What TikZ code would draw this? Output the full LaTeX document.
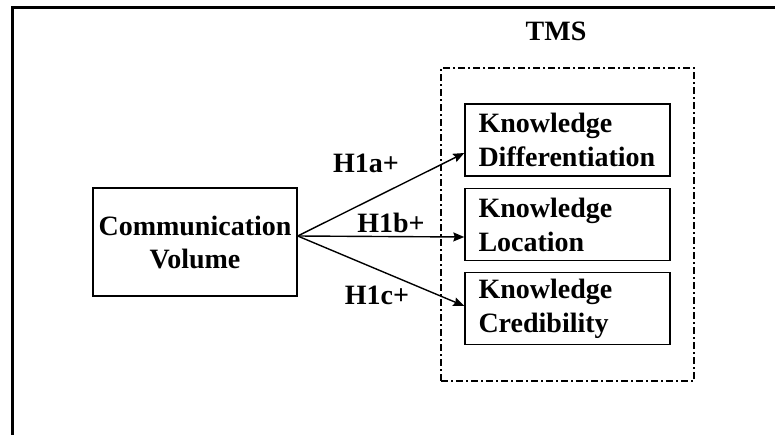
\documentclass[tikz,border=0pt]{standalone}
\usepackage{fontspec}
\setmainfont{Liberation Serif}
\usetikzlibrary{arrows.meta,calc}

\tikzset{
  frameline/.style={line width=2.2pt, line cap=rect},
  varbox/.style={draw, line width=1.4pt, rectangle, inner sep=0pt,
    font=\fontsize{28}{34}\selectfont\bfseries},
  kbox/.style={varbox, minimum width=205pt, minimum height=72pt,
    text width=178pt, align=left},
  groupbox/.style={draw, line width=1.4pt, rectangle,
    dash pattern=on 7pt off 3pt on 2pt off 3pt},
  hlabel/.style={inner sep=0pt, font=\fontsize{28}{34}\selectfont\bfseries},
  arr/.style={line width=1.4pt, -{Stealth[length=11pt,width=9pt,inset=1.5pt]}}
}

\begin{document}
\begin{tikzpicture}[x=1pt, y=-1pt]
  \useasboundingbox (0,0) rectangle (775,434);

  % outer frame (top and left rules)
  \coordinate (fbl) at (12.5,434);
  \coordinate (ftl) at (12.5,7.5);
  \coordinate (ftr) at (775,7.5);
  \draw[frameline] (fbl) -- (ftl) -- (ftr);

  % source construct
  \node[varbox, minimum width=204pt, minimum height=108pt, align=center,
        font=\fontsize{28}{33}\selectfont\bfseries] (comm) at (195,242)
        {Communication\\Volume};

  % TMS group
  \node[groupbox, minimum width=253pt, minimum height=313pt] (tmsbox) at (567.5,224.5) {};
  \node[hlabel] (tms) at (556,31) {TMS};

  % TMS dimensions
  \node[kbox] (k1) at (567.5,140) {Knowledge\\Differentiation};
  \node[kbox] (k2) at (567.5,224.5) {Knowledge\\Location};
  \node[kbox] (k3) at (567.5,308.5) {Knowledge\\Credibility};

  % hypothesised paths
  \coordinate (src) at ($(comm.east)+(0,-6)$);
  \coordinate (e1) at ($(k1.west)+(0,13)$);
  \coordinate (e2) at ($(k2.west)+(0,12.5)$);
  \coordinate (e3) at ($(k3.west)+(0,-2.5)$);
  \draw[arr] (src) -- (e1);
  \draw[arr] (src) -- (e2);
  \draw[arr] (src) -- (e3);

  \node[hlabel] (h1a) at (366,163) {H1a+};
  \node[hlabel] (h1b) at (391,223) {H1b+};
  \node[hlabel] (h1c) at (377,295) {H1c+};
\end{tikzpicture}
\end{document}
